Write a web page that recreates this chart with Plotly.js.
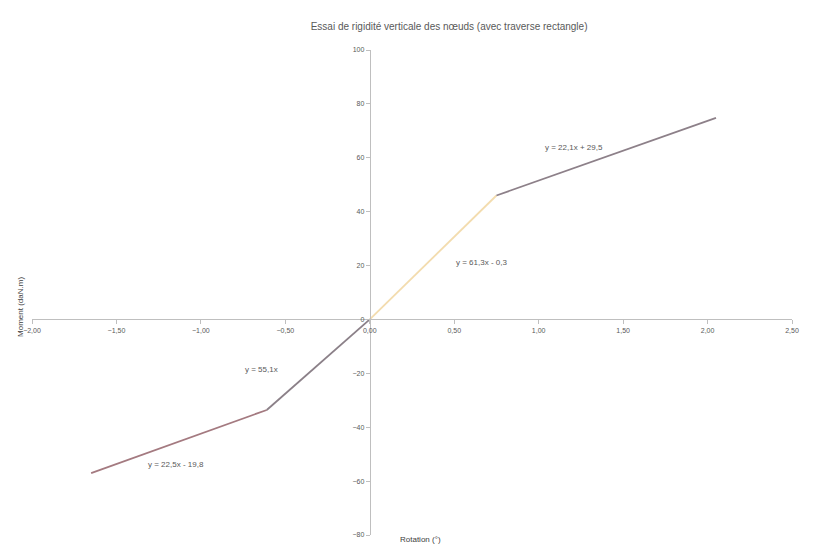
<!DOCTYPE html>
<html>
<head>
<meta charset="utf-8">
<script src="https://cdn.plot.ly/plotly-3.0.1.min.js"></script>
<style>html,body{margin:0;padding:0;background:#fff;}#chart{width:821px;height:551px;}</style>
</head>
<body>
<div id="chart"></div>
<script>
// Segment data (rotation in degrees, moment in daN.m)
const seg1X = [-1.65, -0.61];
const seg1Y = [-57.0, -33.6];
const seg2X = [-0.61, 0.00];
const seg2Y = [-33.6, 0.0];
const seg3X = [0.00, 0.75];
const seg3Y = [0.0, 46.0];
const seg4X = [0.75, 2.05];
const seg4Y = [46.0, 74.8];

const equations = ["y = 22,5x - 19,8", "y = 55,1x", "y = 61,3x - 0,3", "y = 22,1x + 29,5"];
const eqX = [-1.15, -0.64, 0.66, 1.21];
const eqY = [-54, -18.6, 21, 64];

const xTicks = [-2.0, -1.5, -1.0, -0.5, 0, 0.5, 1.0, 1.5, 2.0, 2.5];
const yTicks = [-80, -60, -40, -20, 0, 20, 40, 60, 80, 100];

const titleText = "Essai de rigidité verticale des nœuds (avec traverse rectangle)";
const xTitle = "Rotation (°)";
const yTitle = "Moment (daN.m)";

const colors = ["#a47a80", "#8b8088", "#f3dcae", "#8d8089"];
const segs = [[seg1X, seg1Y], [seg2X, seg2Y], [seg3X, seg3Y], [seg4X, seg4Y]];

const traces = segs.map((s, i) => ({
  x: s[0], y: s[1], type: 'scatter', mode: 'lines',
  line: {color: colors[i], width: 1.8}, hoverinfo: 'skip', showlegend: false
}));

const font = {family: 'Liberation Sans, Arial, sans-serif', color: '#595959'};

const annotations = equations.map((t, i) => ({
  x: eqX[i], y: eqY[i], xref: 'x', yref: 'y', text: t, showarrow: false,
  font: Object.assign({}, font, {size: 8})
}));
annotations.push({x: 370/821, y: 3/551, xref: 'paper', yref: 'paper', xanchor: 'left', yanchor: 'bottom',
  text: '', showarrow: false});

const layout = {
  width: 821, height: 551,
  margin: {l: 32, r: 29, t: 50, b: 16},
  paper_bgcolor: '#fff', plot_bgcolor: '#fff',
  separators: ', ',
  font: font,
  title: {text: titleText, x: 0.547, xanchor: 'center', y: 0.952, yanchor: 'middle',
    font: Object.assign({}, font, {size: 10})},
  xaxis: {
    range: [-2.0, 2.5], tickvals: xTicks, tickformat: '.2f',
    anchor: 'free', position: 80/180,
    showgrid: false, zeroline: false, showline: true, linecolor: '#bfbfbf', linewidth: 1,
    ticks: 'outside', ticklen: 4, tickcolor: '#bfbfbf',
    tickfont: Object.assign({}, font, {size: 7}),
    title: {text: ''}
  },
  yaxis: {
    range: [-80, 100], tickvals: yTicks, tickformat: 'd',
    anchor: 'free', position: 2/4.5,
    showgrid: false, zeroline: false, showline: true, linecolor: '#bfbfbf', linewidth: 1,
    ticks: 'outside', ticklen: 4, tickcolor: '#bfbfbf',
    tickfont: Object.assign({}, font, {size: 7}),
    title: {text: ''}
  },
  annotations: annotations.concat([
    {x: 420/821, y: 0, xref: 'paper', yref: 'paper', yshift: -11, xanchor: 'center', yanchor: 'bottom',
      text: xTitle, showarrow: false, font: Object.assign({}, font, {size: 8, color: '#404040'})},
    {x: 15/821, y: 0.47, xref: 'paper', yref: 'paper', xanchor: 'center', yanchor: 'middle', textangle: -90,
      xshift: -26, text: yTitle, showarrow: false, font: Object.assign({}, font, {size: 8, color: '#404040'})}
  ])
};

Plotly.newPlot('chart', traces, layout, {displayModeBar: false, staticPlot: true});
</script>
</body>
</html>
